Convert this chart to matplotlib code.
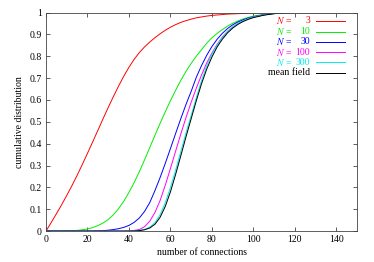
import matplotlib
matplotlib.use("Agg")
import matplotlib.pyplot as plt

# ── Data ──────────────────────────────────────────────────────────────────────
connections = [0, 2.5, 5, 7.5, 10, 12.5, 15, 17.5, 20, 22.5, 25, 27.5, 30,
               32.5, 35, 37.5, 40, 42.5, 45, 47.5, 50, 52.5, 55, 57.5, 60,
               62.5, 65, 67.5, 70, 72.5, 75, 77.5, 80, 82.5, 85, 87.5, 90,
               92.5, 95, 97.5, 100, 105, 110, 115, 120, 130, 150]

cdf_n3 = [0, .039, .079, .120, .163, .208, .255, .305, .356, .408, .461, .514,
          .566, .616, .664, .709, .750, .786, .817, .843, .865, .885, .903,
          .919, .933, .945, .955, .963, .970, .976, .980, .984, .987, .989,
          .991, .993, .994, .995, .996, .997, .998, .999, 1, 1, 1, 1, 1]
cdf_n10 = [0, 0, 0, 0, .001, .002, .003, .006, .010, .016, .025, .037, .053,
           .075, .103, .137, .177, .222, .272, .326, .382, .438, .493, .546,
           .597, .645, .690, .731, .768, .801, .831, .860, .885, .905, .922,
           .938, .951, .962, .971, .978, .984, .992, .996, .999, 1, 1, 1]
cdf_n30 = [0, 0, 0, 0, 0, 0, 0, 0, 0, 0, .001, .002, .004, .007, .011, .017,
           .026, .040, .060, .090, .130, .185, .245, .310, .378, .447, .515,
           .580, .640, .705, .758, .805, .845, .878, .905, .927, .944, .957,
           .967, .975, .981, .990, .996, .999, 1, 1, 1]
cdf_n100 = [0, 0, 0, 0, 0, 0, 0, 0, 0, 0, 0, 0, 0, 0, 0, 0, .001, .003, .007,
            .020, .045, .085, .140, .210, .287, .366, .445, .520, .590, .655,
            .715, .770, .815, .855, .888, .914, .934, .950, .962, .972, .979,
            .990, .996, .999, 1, 1, 1]
cdf_n300 = [0, 0, 0, 0, 0, 0, 0, 0, 0, 0, 0, 0, 0, 0, 0, 0, 0, .001, .003,
            .008, .018, .038, .075, .130, .200, .280, .365, .450, .530, .612,
            .690, .757, .810, .852, .886, .913, .934, .950, .962, .972, .979,
            .989, .995, .999, 1, 1, 1]
cdf_mean = [0, 0, 0, 0, 0, 0, 0, 0, 0, 0, 0, 0, 0, 0, 0, 0, 0, .0005, .002,
            .006, .014, .031, .063, .113, .180, .260, .345, .432, .515, .598,
            .675, .742, .797, .843, .878, .907, .929, .946, .959, .969, .977,
            .988, .995, .999, 1, 1, 1]

series = [cdf_n3, cdf_n10, cdf_n30, cdf_n100, cdf_n300, cdf_mean]
n_labels = ["3", "10", "30", "100", "300", None]
colors = ["#ff0000", "#00ee00", "#0000ff", "#ff00ff", "#00eeee", "#000000"]

x_ticks = [0, 20, 40, 60, 80, 100, 120, 140]
y_ticks = [0, 0.1, 0.2, 0.3, 0.4, 0.5, 0.6, 0.7, 0.8, 0.9, 1]
y_ticklabels = ["0", "0.1", "0.2", "0.3", "0.4", "0.5", "0.6", "0.7", "0.8",
                "0.9", "1"]

# ── Plot ──────────────────────────────────────────────────────────────────────
plt.rcParams["font.family"] = ["Liberation Serif", "DejaVu Serif"]
plt.rcParams["mathtext.fontset"] = "stix"

fig = plt.figure(figsize=(3.74, 2.62), dpi=100)
ax = fig.add_axes([0.123, 0.118, 0.832, 0.834])

for ys, c in zip(series, colors):
    ax.plot(connections, ys, color=c, lw=0.7)

ax.set_xlim(0, 150)
ax.set_ylim(0, 1)
ax.set_xticks(x_ticks)
ax.set_yticks(y_ticks)
ax.set_yticklabels(y_ticklabels)
ax.tick_params(direction="in", length=3, width=0.6, labelsize=7,
               top=True, right=True, color="#444444", pad=3)
for sp in ax.spines.values():
    sp.set_linewidth(0.6)
    sp.set_color("#444444")

ax.set_xlabel("number of connections", fontsize=7, labelpad=3)
ax.set_ylabel("cumulative distribution", fontsize=7, labelpad=4)

# gnuplot-style key, top right
row_y = [0.962, 0.913, 0.866, 0.819, 0.773, 0.725]
for yk, lab, c in zip(row_y, n_labels, colors):
    if lab is None:
        ax.text(0.849, yk, "mean field", color=c, fontsize=7,
                ha="right", va="center", transform=ax.transAxes)
    else:
        ax.text(0.740, yk, "$N$ =", color=c, fontsize=7,
                ha="left", va="center", transform=ax.transAxes)
        ax.text(0.849, yk, lab, color=c, fontsize=7,
                ha="right", va="center", transform=ax.transAxes)
    ax.plot([0.868, 0.961], [yk, yk], color=c, lw=0.7,
            transform=ax.transAxes)

fig.savefig("out.png", dpi=100)
